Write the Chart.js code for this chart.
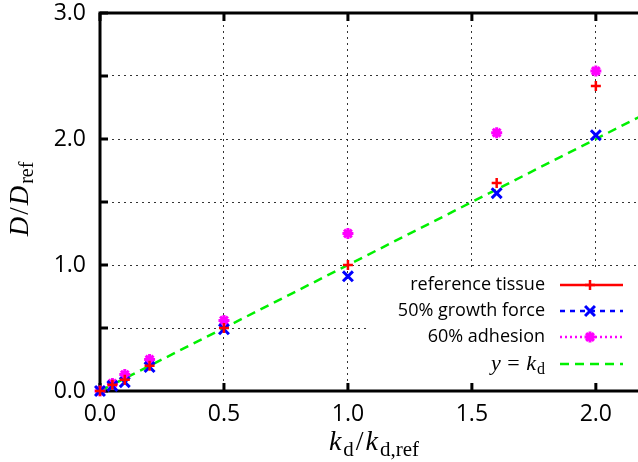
<!DOCTYPE html>
<html>
<head>
<meta charset="utf-8">
<script src="https://cdn.jsdelivr.net/npm/chart.js@4.4.0/dist/chart.umd.min.js"></script>
<style>
  html, body { margin: 0; padding: 0; background: #fff; overflow: hidden; }
  #wrap { width: 638px; height: 462px; overflow: hidden; }
  #chart { width: 680px; height: 462px; }
</style>
</head>
<body>
<div id="wrap"><canvas id="chart" width="680" height="462"></canvas></div>
<script>
// k_d / k_d,ref values measured
const kd = [0, 0.05, 0.1, 0.2, 0.5, 1.0, 1.6, 2.0];
const refTissue = [0, 0.05, 0.09, 0.2, 0.5, 1.0, 1.65, 2.42];
const growth50 = [0, 0.04, 0.07, 0.19, 0.49, 0.91, 1.57, 2.03];
const adhesion60 = [0, 0.06, 0.13, 0.25, 0.56, 1.25, 2.05, 2.54];
const lineX = [0, 2.3];
const lineY = [0, 2.3];

const xTicks = [0, 0.5, 1.0, 1.5, 2.0];
const yTicks = [0, 0.5, 1.0, 1.5, 2.0, 2.5, 3.0];
const legendLabels = ['reference tissue', '50% growth force', '60% adhesion'];

function pts(xs, ys) {
    return xs.map(function (x, i) { return { x: x, y: ys[i] }; });
}

const SANS = '"Open Sans", "DejaVu Sans", sans-serif';
const SERIF = '"Liberation Serif", "DejaVu Serif", serif';

// draws a little math formula: parts = [[text, style]], style i / r / s (subscript)
function fontFor(style, size) {
    if (style == 'i') return 'italic ' + size + 'px ' + SERIF;
    if (style == 's') return Math.round(size * 0.74) + 'px ' + SERIF;
    return size + 'px ' + SERIF;
}
function mathWidth(ctx, parts, size, gap) {
    var w = 0;
    parts.forEach(function (p) {
        ctx.font = fontFor(p[1], size);
        w += ctx.measureText(p[0]).width + gap;
    });
    return w - gap;
}
function drawMath(ctx, parts, x, y, size, align, gap) {
    gap = gap || 0;
    var w = mathWidth(ctx, parts, size, gap);
    var cx = align == 'right' ? x - w : (align == 'center' ? x - w / 2 : x);
    ctx.textAlign = 'left';
    ctx.textBaseline = 'alphabetic';
    ctx.fillStyle = '#000';
    parts.forEach(function (p) {
        ctx.font = fontFor(p[1], size);
        var dy = p[1] == 's' ? size * 0.2 : 0;
        ctx.fillText(p[0], cx, y + dy);
        cx += ctx.measureText(p[0]).width + gap;
    });
}

const styles = [
    { color: '#ff0000', point: 'cross', radius: 5, width: 2.5, dash: [] },
    { color: '#0000ff', point: 'crossRot', radius: 7, width: 3, dash: [5, 5] },
    { color: '#ff00ff', point: 'star', radius: 5.5, width: 3, dash: [2, 3] }
];
const GREEN = '#00f000';

const frame = {
    id: 'frame',
    beforeDatasetsDraw: function (chart) {
        const ctx = chart.ctx;
        const a = chart.chartArea;
        const xs = chart.scales.x, ys = chart.scales.y;
        ctx.save();
        ctx.strokeStyle = '#000';
        ctx.lineWidth = 3;
        ctx.beginPath();
        ctx.moveTo(a.right + 2, a.top);
        ctx.lineTo(a.left, a.top);
        ctx.lineTo(a.left, a.bottom);
        ctx.lineTo(a.right + 2, a.bottom);
        ctx.stroke();
        // inward ticks
        ys.ticks.forEach(function (t) {
            const py = ys.getPixelForValue(t.value);
            ctx.beginPath();
            ctx.moveTo(a.left, py);
            ctx.lineTo(a.left + 8, py);
            ctx.stroke();
        });
        xs.ticks.forEach(function (t) {
            const px = xs.getPixelForValue(t.value);
            ctx.beginPath();
            ctx.moveTo(px, a.bottom);
            ctx.lineTo(px, a.bottom - 8);
            ctx.moveTo(px, a.top);
            ctx.lineTo(px, a.top + 8);
            ctx.stroke();
        });
        // axis titles
        drawMath(ctx, [['k', 'i'], ['d', 's'], ['/', 'r'], ['k', 'i'], ['d,ref', 's']], 374, 450, 28, 'center', 2);
        ctx.translate(28, 199);
        ctx.rotate(-Math.PI / 2);
        drawMath(ctx, [['D', 'i'], ['/', 'r'], ['D', 'i'], ['ref', 's']], 0, 0, 27, 'center', 2);
        ctx.restore();
    },
    afterDatasetsDraw: function (chart) {
        const ctx = chart.ctx;
        const a = chart.chartArea;
        ctx.save();
        // legend box
        ctx.fillStyle = '#fff';
        ctx.fillRect(367, 268, a.right - 2 - 367, 114);
        ctx.font = '18px ' + SANS;
        ctx.textAlign = 'right';
        ctx.textBaseline = 'middle';
        const rows = [285, 311, 337, 364];
        for (let i = 0; i < 3; i++) {
            const s = styles[i];
            ctx.fillStyle = '#000';
            ctx.fillText(legendLabels[i], 545, rows[i]);
            ctx.strokeStyle = s.color;
            ctx.lineWidth = 2.5;
            ctx.setLineDash(s.dash);
            ctx.beginPath();
            ctx.moveTo(560, rows[i]);
            ctx.lineTo(623, rows[i]);
            ctx.stroke();
            ctx.setLineDash([]);
            ctx.lineWidth = s.width;
            ctx.fillStyle = s.color;
            Chart.helpers.drawPoint(ctx, { pointStyle: s.point, radius: s.radius, rotation: 0, borderWidth: s.width }, 590, rows[i]);
        }
        drawMath(ctx, [['y', 'i'], [' = ', 'r'], ['k', 'i'], ['d', 's']], 545, rows[3] + 6, 22, 'right', 1);
        ctx.strokeStyle = GREEN;
        ctx.lineWidth = 2.5;
        ctx.setLineDash([9, 6]);
        ctx.beginPath();
        ctx.moveTo(560, rows[3]);
        ctx.lineTo(623, rows[3]);
        ctx.stroke();
        ctx.setLineDash([]);
        ctx.restore();
    }
};

function setTicks(vals) {
    return function (scale) {
        scale.ticks = vals.map(function (v) { return { value: v }; });
    };
}

const config = {
    type: 'scatter',
    data: {
        datasets: [
            { label: legendLabels[0], data: pts(kd, refTissue), clip: false, pointStyle: 'cross', pointRadius: 5, pointBorderWidth: 2.5, borderColor: '#ff0000', backgroundColor: '#ff0000' },
            { label: legendLabels[1], data: pts(kd, growth50), clip: false, pointStyle: 'crossRot', pointRadius: 7, pointBorderWidth: 3, borderColor: '#0000ff', backgroundColor: '#0000ff' },
            { label: legendLabels[2], data: pts(kd, adhesion60), clip: false, pointStyle: 'star', pointRadius: 5.5, pointBorderWidth: 3, borderColor: '#ff00ff', backgroundColor: '#ff00ff' },
            { label: 'y = kd', type: 'line', data: pts(lineX, lineY), showLine: true, pointRadius: 0, borderColor: GREEN, borderWidth: 2.5, borderDash: [9, 6], fill: false }
        ]
    },
    options: {
        responsive: false,
        animation: false,
        events: [],
        // canvas is wider than the window, the plot runs off the right edge like the original
        layout: { padding: { top: 13, right: 42, left: 0, bottom: 0 } },
        plugins: { legend: { display: false }, tooltip: { enabled: false } },
        scales: {
            x: {
                type: 'linear', min: 0, max: 2.17,
                afterBuildTicks: setTicks(xTicks),
                afterFit: function (s) { s.height = 71; },
                grid: { color: function (c) { return (c.tick && c.tick.value == 0) ? 'rgba(0,0,0,0)' : '#333'; }, lineWidth: 1, drawTicks: false },
                border: { display: false, dash: [2, 4] },
                ticks: { padding: 10, color: '#000', font: { family: SANS, size: 23 }, maxRotation: 0, autoSkip: false,
                    callback: function (v) { return v.toFixed(1); } }
            },
            y: {
                min: 0, max: 3,
                afterBuildTicks: setTicks(yTicks),
                afterFit: function (s) { s.width = 100; s.paddingTop = 0; s.paddingBottom = 0; },
                grid: { color: function (c) { return (c.tick && (c.tick.value == 0 || c.tick.value == 3)) ? 'rgba(0,0,0,0)' : '#333'; }, lineWidth: 1, drawTicks: false },
                border: { display: false, dash: [2, 4] },
                ticks: { padding: 14, color: '#000', font: { family: SANS, size: 23 }, autoSkip: false,
                    callback: function (v) { return Number.isInteger(v) ? v.toFixed(1) : ''; } }
            }
        }
    },
    plugins: [frame]
};

const myChart = new Chart(document.getElementById('chart'), config);
</script>
</body>
</html>
